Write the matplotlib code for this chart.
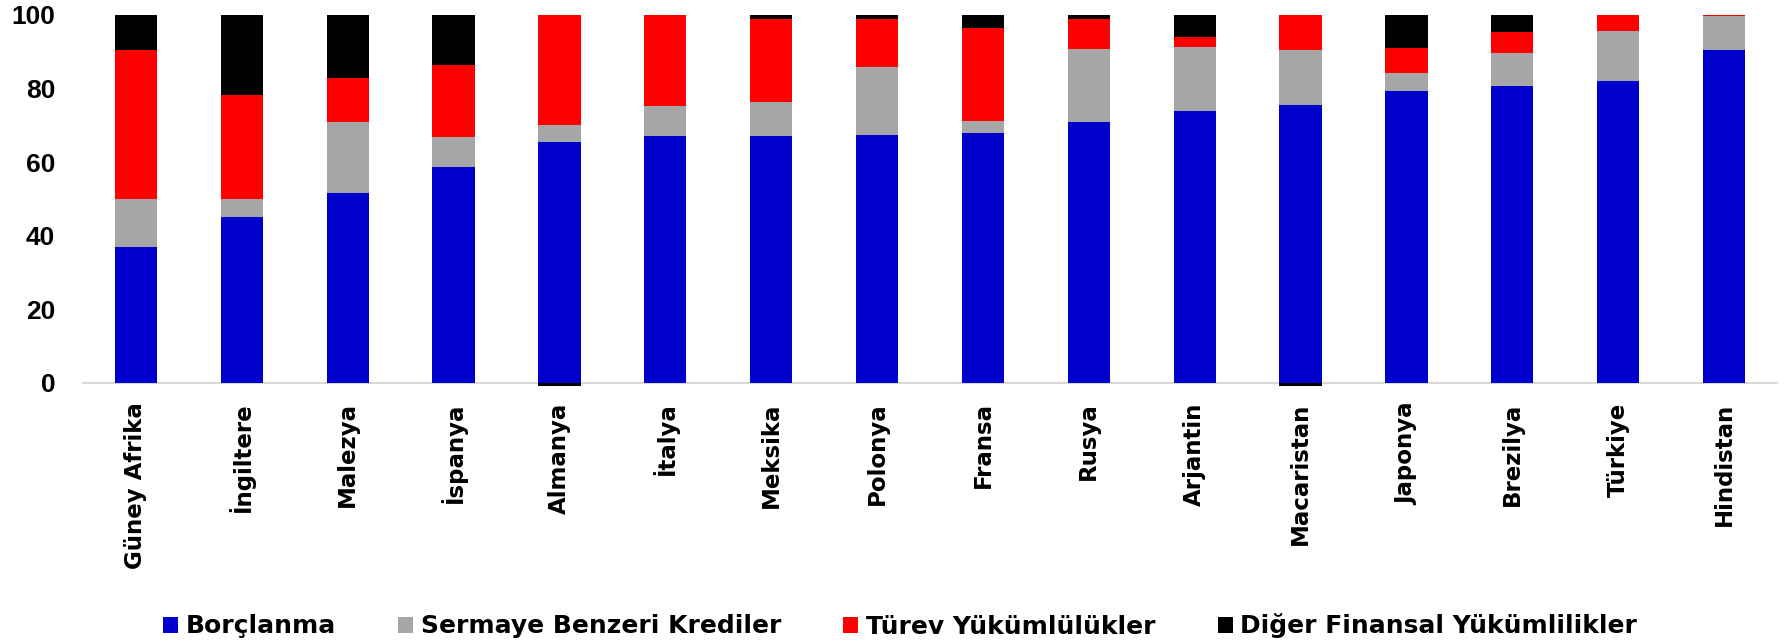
import numpy as np
import matplotlib
matplotlib.use("Agg")
import matplotlib.pyplot as plt
from matplotlib.patches import Patch

countries = ["Güney Afrika", "İngiltere", "Malezya", "İspanya", "Almanya", "İtalya",
             "Meksika", "Polonya", "Fransa", "Rusya", "Arjantin", "Macaristan",
             "Japonya", "Brezilya", "Türkiye", "Hindistan"]
borclanma = [37.0, 45.1, 51.7, 58.7, 65.5, 67.2, 67.2, 67.3, 67.9, 70.8, 73.9, 75.5, 79.4, 80.7, 82.2, 90.4]
sermaye = [13.0, 4.8, 19.1, 8.2, 4.7, 8.0, 9.1, 18.7, 3.3, 20.0, 17.4, 14.9, 4.9, 9.1, 13.4, 9.4]
turev = [40.5, 28.3, 12.1, 19.5, 29.8, 24.8, 22.6, 13.0, 25.2, 8.1, 2.7, 9.6, 6.8, 5.6, 4.4, 0.2]
diger = [9.5, 21.8, 17.1, 13.6, -0.7, 0.0, 1.1, 1.0, 3.6, 1.1, 6.0, -0.7, 8.9, 4.6, 0.0, 0.0]
series_names = ["Borçlanma", "Sermaye Benzeri Krediler", "Türev Yükümlülükler",
                "Diğer Finansal Yükümlilikler"]
colors = ["#0000CC", "#A6A6A6", "#FF0000", "#000000"]
yticks = [0, 20, 40, 60, 80, 100]

fig = plt.figure(figsize=(17.87, 6.44), dpi=100)
ax = fig.add_axes([83 / 1787, 1 - 383 / 644, (1777 - 83) / 1787, (383 - 15) / 644])

x = np.arange(len(countries))
w = 0.40
b = np.array(borclanma)
s = np.array(sermaye)
t = np.array(turev)
d = np.array(diger)
ax.bar(x, b, w, color=colors[0], clip_on=False, zorder=2)
ax.bar(x, s, w, bottom=b, color=colors[1], clip_on=False, zorder=2)
ax.bar(x, t, w, bottom=b + s, color=colors[2], clip_on=False, zorder=2)
ax.bar(x, d, w, bottom=np.where(d < 0, 0, b + s + t), color=colors[3], clip_on=False, zorder=3)

ax.set_xlim(-0.5, len(countries) - 0.5)
ax.set_ylim(0, 100)
ax.set_yticks(yticks)
ax.set_yticklabels([str(v) for v in yticks], fontsize=19, fontweight="bold",
                   family="Liberation Sans")
ax.set_xticks(x)
ax.set_xticklabels(countries, rotation=90, fontsize=16.5, fontweight="bold",
                   family="DejaVu Sans", va="top", ha="center")
ax.tick_params(axis="y", length=0, pad=20)
ax.tick_params(axis="x", length=0, pad=14)
for sp in ["top", "right", "left"]:
    ax.spines[sp].set_visible(False)
ax.spines["bottom"].set_color("#D9D9D9")
ax.spines["bottom"].set_linewidth(1.6)
ax.spines["bottom"].set_zorder(1)

handles = [Patch(facecolor=c, edgecolor="none") for c in colors]
fig.legend(handles, series_names, loc="center", bbox_to_anchor=(900 / 1787, 1 - 626 / 644),
           ncol=4, frameon=False, handlelength=0.6, handleheight=0.6, handletextpad=0.3,
           columnspacing=2.5, prop={"family": "DejaVu Sans", "weight": "bold", "size": 18})

fig.savefig("out.png", dpi=100)
